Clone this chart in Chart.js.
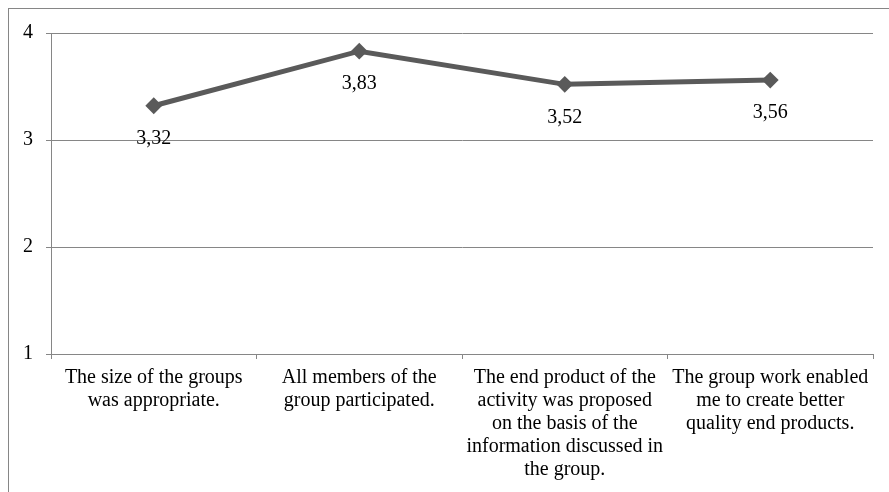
<!DOCTYPE html>
<html>
<head>
<meta charset="utf-8">
<script src="https://cdn.jsdelivr.net/npm/chart.js"></script>
<style>
html, body { margin: 0; padding: 0; background: #fff; overflow: hidden; }
#wrap { width: 889px; height: 492px; position: relative; }
</style>
</head>
<body>
<div id="wrap"><canvas id="groupChart"></canvas></div>
<script>
const categories = [
    ['The size of the groups', 'was appropriate.'],
    ['All members of the', 'group participated.'],
    ['The end product of the', 'activity was proposed', 'on the basis of the', 'information discussed in', 'the group.'],
    ['The group work enabled', 'me to create better', 'quality end products.']
];
const scores = [3.32, 3.83, 3.52, 3.56];
const yMin = 1;
const yMax = 4;

const serif = '"Liberation Serif", "Times New Roman", serif';
const gridGray = '#868686';
const lineGray = '#5a5a5a';

// outer frame of the chart object (cut at right and bottom)
const framePlugin = {
    id: 'frame',
    beforeDraw(chart) {
        const c = chart.ctx;
        c.save();
        c.strokeStyle = gridGray;
        c.lineWidth = 1;
        c.strokeRect(8.5, 8.5, 1000, 1000);
        c.restore();
    }
};

// values under each point, with a decimal comma
const valueLabels = {
    id: 'valueLabels',
    afterDatasetsDraw(chart) {
        const c = chart.ctx;
        const meta = chart.getDatasetMeta(0);
        c.save();
        c.font = '20px ' + serif;
        c.fillStyle = '#000';
        c.textAlign = 'center';
        c.textBaseline = 'middle';
        meta.data.forEach(function(pt, i) {
            const txt = scores[i].toFixed(2).replace('.', ',');
            c.fillText(txt, pt.x, pt.y + 33);
        });
        c.restore();
    }
};

const ctx = document.getElementById('groupChart').getContext('2d');
const groupChart = new Chart(ctx, {
    type: 'line',
    data: {
        labels: categories,
        datasets: [{
            data: scores,
            borderColor: lineGray,
            backgroundColor: lineGray,
            borderWidth: 5,
            tension: 0,
            pointStyle: 'rectRot',
            pointRadius: 7,
            pointHoverRadius: 7,
            pointBackgroundColor: lineGray,
            pointBorderColor: lineGray,
            pointBorderWidth: 2
        }]
    },
    options: {
        responsive: true,
        maintainAspectRatio: false,
        animation: false,
        layout: { padding: { top: 33, right: 16, left: 0, bottom: 0 } },
        plugins: {
            legend: { display: false },
            tooltip: { enabled: false }
        },
        scales: {
            x: {
                offset: true,
                afterFit: function(scale) { scale.height = 138; },
                grid: {
                    offset: true,
                    drawOnChartArea: false,
                    drawTicks: true,
                    tickLength: 5,
                    color: gridGray
                },
                border: { color: gridGray, width: 1 },
                ticks: {
                    autoSkip: false,
                    maxRotation: 0,
                    minRotation: 0,
                    padding: 7,
                    color: '#000',
                    font: { family: serif, size: 20, lineHeight: 1.15 }
                }
            },
            y: {
                min: yMin,
                max: yMax,
                afterFit: function(scale) { scale.width = 51; },
                grid: {
                    color: gridGray,
                    tickLength: 5
                },
                border: { color: gridGray, width: 1 },
                ticks: {
                    stepSize: 1,
                    padding: 13,
                    color: '#000',
                    font: { family: serif, size: 20 }
                }
            }
        }
    },
    plugins: [framePlugin, valueLabels]
});
</script>
</body>
</html>
